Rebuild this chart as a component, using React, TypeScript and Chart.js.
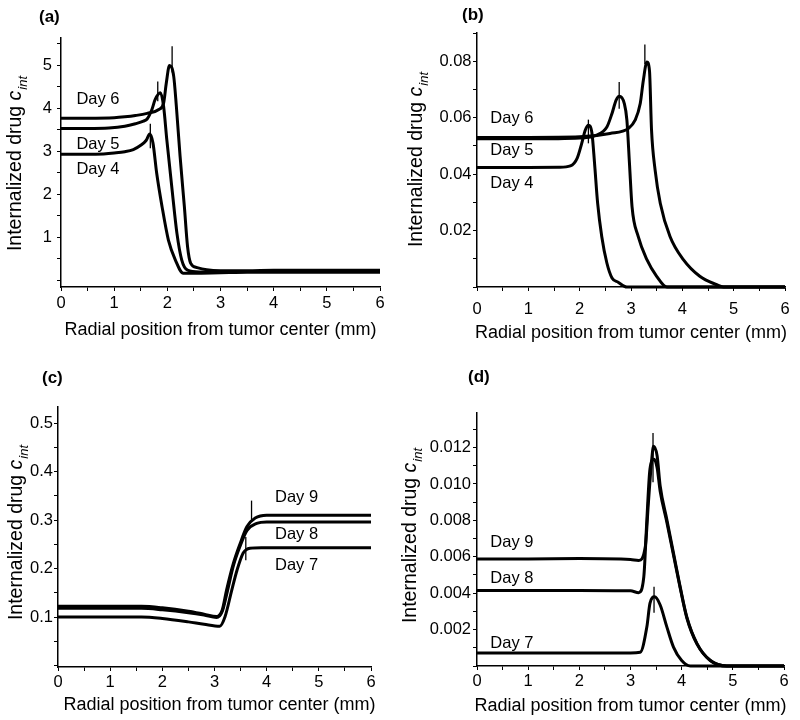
import React, { useEffect, useRef } from "react";
import { Chart, registerables } from "chart.js";

Chart.register(...registerables);

const FONT = "'Liberation Sans', Arial, Helvetica, sans-serif";

// ---------------- Panel (a) data: Days 4-6 ----------------
const A_D4_X = [0, 0.5, 0.8, 1.0, 1.2, 1.36, 1.5, 1.6, 1.67, 1.73, 1.8, 1.9, 2.02, 2.15, 2.3, 2.5, 3.0, 3.5, 4, 5, 6];
const A_D4_Y = [2.93, 2.93, 2.94, 2.96, 2.99, 3.04, 3.14, 3.25, 3.4, 3.19, 2.49, 1.72, 0.94, 0.48, 0.17, 0.17, 0.18, 0.19, 0.19, 0.19, 0.19];
const A_D5_X = [0, 0.5, 0.9, 1.2, 1.4, 1.55, 1.62, 1.71, 1.77, 1.87, 1.93, 1.99, 2.09, 2.18, 2.27, 2.38, 2.6, 3.0, 3.5, 4, 5, 6];
const A_D5_Y = [3.53, 3.53, 3.54, 3.58, 3.64, 3.7, 3.75, 3.97, 4.2, 4.36, 4.04, 3.27, 2.1, 1.1, 0.48, 0.24, 0.2, 0.2, 0.21, 0.21, 0.21, 0.21];
const A_D6_X = [0, 0.5, 1.0, 1.2, 1.4, 1.62, 1.84, 1.93, 1.98, 2.04, 2.12, 2.17, 2.24, 2.32, 2.38, 2.44, 2.56, 2.74, 3.0, 3.5, 4, 5, 6];
const A_D6_Y = [3.77, 3.77, 3.78, 3.8, 3.83, 3.88, 3.97, 4.12, 4.58, 4.99, 4.74, 4.04, 2.88, 1.72, 0.79, 0.4, 0.3, 0.25, 0.23, 0.23, 0.24, 0.24, 0.24];
const A_MARK_X = [1.68, 1.82, 2.09];
const A_MARK_LO = [3.07, 4.16, 4.83];
const A_MARK_HI = [3.64, 4.62, 5.44];
const A_LABELS = ["Day 6", "Day 5", "Day 4"];
const A_LABEL_X = [0.29, 0.29, 0.29];
const A_LABEL_Y = [4.21, 3.17, 2.57];

// ---------------- Panel (b) data: Days 4-6 ----------------
const B_D4_X = [0, 1.0, 1.6, 1.82, 1.95, 2.04, 2.11, 2.17, 2.24, 2.29, 2.35, 2.43, 2.53, 2.63, 2.75, 2.92, 3.5, 4.5, 6];
const B_D4_Y = [0.0423, 0.0423, 0.0424, 0.0429, 0.0456, 0.0509, 0.0556, 0.0573, 0.0544, 0.0438, 0.0297, 0.0179, 0.0085, 0.0032, 0.0017, 0, 0, 0, 0];
const B_D5_X = [0, 1.0, 2.0, 2.33, 2.53, 2.63, 2.71, 2.77, 2.87, 2.92, 2.97, 3.02, 3.14, 3.31, 3.5, 3.7, 4.5, 6];
const B_D5_Y = [0.0525, 0.0525, 0.0528, 0.0538, 0.0567, 0.0615, 0.0662, 0.0676, 0.065, 0.0591, 0.0438, 0.0285, 0.0179, 0.0097, 0.0038, 0, 0, 0];
const B_D6_X = [0, 1.0, 2.0, 2.59, 2.95, 3.08, 3.18, 3.24, 3.31, 3.36, 3.4, 3.47, 3.57, 3.76, 4.02, 4.34, 4.67, 4.8, 6];
const B_D6_Y = [0.053, 0.053, 0.0532, 0.0544, 0.0562, 0.0591, 0.065, 0.0732, 0.0797, 0.0767, 0.0556, 0.0414, 0.0297, 0.0179, 0.0097, 0.0038, 0.0008, 0, 0];
const B_MARK_X = [2.17, 2.77, 3.27];
const B_MARK_LO = [0.0509, 0.0632, 0.079];
const B_MARK_HI = [0.0593, 0.0726, 0.0859];
const B_LABELS = ["Day 6", "Day 5", "Day 4"];
const B_LABEL_X = [0.26, 0.26, 0.26];
const B_LABEL_Y = [0.0597, 0.0485, 0.0367];

// ---------------- Panel (c) data: Days 7-9 ----------------
const C_D9_X = [0, 1.0, 1.6, 2.0, 2.5, 2.8, 3.04, 3.15, 3.23, 3.36, 3.49, 3.62, 3.78, 4.0, 4.5, 5, 6];
const C_D9_Y = [0.122, 0.122, 0.122, 0.119, 0.112, 0.106, 0.101, 0.115, 0.155, 0.21, 0.251, 0.286, 0.304, 0.31, 0.31, 0.31, 0.31];
const C_D8_X = [0, 1.0, 1.6, 2.0, 2.5, 2.8, 3.04, 3.15, 3.24, 3.36, 3.49, 3.62, 3.81, 4.0, 4.5, 5, 6];
const C_D8_Y = [0.118, 0.118, 0.118, 0.115, 0.109, 0.104, 0.099, 0.112, 0.15, 0.205, 0.246, 0.278, 0.293, 0.296, 0.296, 0.296, 0.296];
const C_D7_X = [0, 1.0, 1.6, 2.0, 2.5, 2.8, 3.1, 3.2, 3.33, 3.43, 3.55, 3.68, 3.9, 4.5, 6];
const C_D7_Y = [0.1, 0.1, 0.1, 0.097, 0.09, 0.085, 0.081, 0.1, 0.155, 0.196, 0.232, 0.242, 0.243, 0.243, 0.243];
const C_MARK_X = [3.71, 3.6];
const C_MARK_LO = [0.3, 0.217];
const C_MARK_HI = [0.34, 0.265];
const C_LABELS = ["Day 9", "Day 8", "Day 7"];
const C_LABEL_X = [4.16, 4.16, 4.16];
const C_LABEL_Y = [0.347, 0.27, 0.2065];

// ---------------- Panel (d) data: Days 7-9 ----------------
const D_D9_X = [0, 1, 2, 3.0, 3.16, 3.29, 3.35, 3.41, 3.45, 3.52, 3.58, 3.71, 3.84, 3.97, 4.1, 4.3, 4.56, 4.88, 5.2, 6];
const D_D9_Y = [0.00588, 0.00588, 0.0059, 0.00585, 0.0058, 0.00657, 0.00897, 0.01118, 0.01207, 0.01155, 0.00989, 0.00805, 0.0062, 0.00436, 0.0027, 0.00123, 0.0003, 0, 0, 0];
const D_D8_X = [0, 1, 2, 3.0, 3.16, 3.26, 3.32, 3.38, 3.46, 3.52, 3.58, 3.71, 3.84, 3.97, 4.1, 4.3, 4.56, 4.88, 5.2, 6];
const D_D8_Y = [0.00415, 0.00415, 0.00415, 0.00413, 0.00403, 0.0049, 0.00805, 0.01081, 0.01136, 0.0109, 0.0096, 0.0079, 0.0061, 0.0043, 0.00265, 0.0012, 0.0003, 0, 0, 0];
const D_D7_X = [0, 1, 2, 3.0, 3.19, 3.32, 3.38, 3.47, 3.58, 3.71, 3.84, 4.0, 4.17, 6];
const D_D7_Y = [0.00072, 0.00072, 0.00072, 0.00072, 0.00075, 0.00215, 0.00344, 0.0038, 0.00335, 0.00215, 0.00104, 0.0003, 0, 0];
const D_MARK_X = [3.44, 3.46];
const D_MARK_LO = [0.0101, 0.00292];
const D_MARK_HI = [0.0128, 0.00436];
const D_LABELS = ["Day 9", "Day 8", "Day 7"];
const D_LABEL_X = [0.26, 0.26, 0.26];
const D_LABEL_Y = [0.00679, 0.00482, 0.00123];

// ---------------- shared axis text ----------------
const X_TITLE = "Radial position from tumor center (mm)";
const Y_TITLE_MAIN = "Internalized drug ";
const Y_TITLE_VAR = "c";
const Y_TITLE_SUB = "int";
const X_TICK_STEP = 0.5;

type Series = { x: number[]; y: number[] };
type Panel = {
  letter: string;
  pos: [number, number];
  area: { l: number; r: number; t: number; b: number };
  yMin: number;
  yMax: number;
  yStep: number;
  yLabel: (v: number) => string;
  series: Series[];
  markX: number[];
  markLo: number[];
  markHi: number[];
  labels: string[];
  labelX: number[];
  labelY: number[];
  letterXY: [number, number];
  yTitleXY: [number, number];
  xTitleDY: number;
  xTitleDX: number;
  xTickPad: number;
  yTickPad: number;
};

const CW = 400;
const CH = 360;
const TICK_FONT = 16.5;

const zip = (xs: number[], ys: number[]) => xs.map((x, i) => ({ x, y: ys[i] }));

const intLabel = (v: number) => {
  const k = Math.round(v * 2);
  return k > 0 && k % 2 === 0 ? String(k / 2) : "";
};

const PANELS: Panel[] = [
  {
    letter: "(a)",
    pos: [0, 0],
    area: { l: 61, r: 380, t: 38, b: 287 },
    yMin: -0.15,
    yMax: 5.63,
    yStep: 0.5,
    yLabel: intLabel,
    series: [
      { x: A_D4_X, y: A_D4_Y },
      { x: A_D5_X, y: A_D5_Y },
      { x: A_D6_X, y: A_D6_Y },
    ],
    markX: A_MARK_X,
    markLo: A_MARK_LO,
    markHi: A_MARK_HI,
    labels: A_LABELS,
    labelX: A_LABEL_X,
    labelY: A_LABEL_Y,
    letterXY: [39, 17],
    yTitleXY: [14, 164],
    xTitleDY: 43,
    xTitleDX: 0,
    xTickPad: 3,
    yTickPad: 5,
  },
  {
    letter: "(b)",
    pos: [400, 0],
    area: { l: 77, r: 385, t: 33, b: 287 },
    yMin: 0,
    yMax: 0.09,
    yStep: 0.01,
    yLabel: (v: number) => {
      const k = Math.round(v * 100);
      return k > 0 && k % 2 === 0 ? v.toFixed(2) : "";
    },
    series: [
      { x: B_D4_X, y: B_D4_Y },
      { x: B_D5_X, y: B_D5_Y },
      { x: B_D6_X, y: B_D6_Y },
    ],
    markX: B_MARK_X,
    markLo: B_MARK_LO,
    markHi: B_MARK_HI,
    labels: B_LABELS,
    labelX: B_LABEL_X,
    labelY: B_LABEL_Y,
    letterXY: [62, 15],
    yTitleXY: [15, 160],
    xTitleDY: 46,
    xTitleDX: 0,
    xTickPad: 9,
    yTickPad: 1.5,
  },
  {
    letter: "(c)",
    pos: [0, 360],
    area: { l: 58, r: 371, t: 47, b: 307 },
    yMin: -0.003,
    yMax: 0.533,
    yStep: 0.05,
    yLabel: (v: number) => {
      const k = Math.round(v * 20);
      return k > 0 && k % 2 === 0 ? v.toFixed(1) : "";
    },
    series: [
      { x: C_D9_X, y: C_D9_Y },
      { x: C_D8_X, y: C_D8_Y },
      { x: C_D7_X, y: C_D7_Y },
    ],
    markX: C_MARK_X,
    markLo: C_MARK_LO,
    markHi: C_MARK_HI,
    labels: C_LABELS,
    labelX: C_LABEL_X,
    labelY: C_LABEL_Y,
    letterXY: [42, 18],
    yTitleXY: [15, 173],
    xTitleDY: 38,
    xTitleDX: 5,
    xTickPad: 1.5,
    yTickPad: 1,
  },
  {
    letter: "(d)",
    pos: [400, 360],
    area: { l: 77, r: 384, t: 53, b: 306 },
    yMin: 0,
    yMax: 0.0139,
    yStep: 0.001,
    yLabel: (v: number) => {
      const k = Math.round(v * 1000);
      return k > 0 && k % 2 === 0 && k <= 12 ? v.toFixed(3) : "";
    },
    series: [
      { x: D_D9_X, y: D_D9_Y },
      { x: D_D8_X, y: D_D8_Y },
      { x: D_D7_X, y: D_D7_Y },
    ],
    markX: D_MARK_X,
    markLo: D_MARK_LO,
    markHi: D_MARK_HI,
    labels: D_LABELS,
    labelX: D_LABEL_X,
    labelY: D_LABEL_Y,
    letterXY: [68, 17],
    yTitleXY: [9, 176],
    xTitleDY: 40,
    xTitleDX: 0,
    xTickPad: 2,
    yTickPad: 2,
  },
];

function drawYTitle(ctx: CanvasRenderingContext2D, cx: number, cy: number, size: number) {
  ctx.save();
  ctx.translate(cx, cy);
  ctx.rotate(-Math.PI / 2);
  ctx.fillStyle = "#000";
  ctx.textBaseline = "alphabetic";
  ctx.textAlign = "left";
  const sub = Math.round(size * 0.68);
  ctx.font = `${size}px ${FONT}`;
  const w1 = ctx.measureText(Y_TITLE_MAIN).width;
  ctx.font = `italic ${size}px ${FONT}`;
  const w2 = ctx.measureText(Y_TITLE_VAR).width;
  ctx.font = `italic ${sub}px ${FONT}`;
  const w3 = ctx.measureText(Y_TITLE_SUB).width;
  let x = -(w1 + w2 + w3) / 2;
  const base = size * 0.36;
  ctx.font = `${size}px ${FONT}`;
  ctx.fillText(Y_TITLE_MAIN, x, base);
  x += w1;
  ctx.font = `italic ${size}px ${FONT}`;
  ctx.fillText(Y_TITLE_VAR, x, base);
  x += w2 + 1;
  ctx.font = `italic ${sub}px ${FONT}`;
  ctx.fillText(Y_TITLE_SUB, x, base + size * 0.3);
  ctx.restore();
}

function PanelChart({ p }: { p: Panel }) {
  const ref = useRef<HTMLCanvasElement | null>(null);
  useEffect(() => {
    if (!ref.current) return;
    const datasets: any[] = [];
    p.series.forEach((s) => {
      datasets.push({
        data: zip(s.x, s.y),
        borderColor: "#000",
        borderWidth: 3,
        pointRadius: 0,
        cubicInterpolationMode: "monotone",
        fill: false,
        clip: false,
      });
    });
    p.markX.forEach((mx, i) => {
      datasets.push({
        data: [
          { x: mx, y: p.markLo[i] },
          { x: mx, y: p.markHi[i] },
        ],
        borderColor: "#000",
        borderWidth: 1.3,
        pointRadius: 0,
        fill: false,
        clip: false,
      });
    });

    const textPlugin = {
      id: "panelText",
      afterDraw(chart: any) {
        const ctx: CanvasRenderingContext2D = chart.ctx;
        const xs = chart.scales.x;
        const ys = chart.scales.y;
        const ca = chart.chartArea;
        ctx.save();
        ctx.fillStyle = "#000";
        ctx.font = `bold 17px ${FONT}`;
        ctx.textAlign = "left";
        ctx.textBaseline = "middle";
        ctx.fillText(p.letter, p.letterXY[0], p.letterXY[1]);
        ctx.font = `16.5px ${FONT}`;
        p.labels.forEach((t, i) => {
          ctx.fillText(t, xs.getPixelForValue(p.labelX[i]), ys.getPixelForValue(p.labelY[i]));
        });
        ctx.font = `18px ${FONT}`;
        ctx.textAlign = "center";
        ctx.fillText(X_TITLE, (ca.left + ca.right) / 2 + p.xTitleDX, ca.bottom + p.xTitleDY);
        ctx.restore();
        drawYTitle(ctx, p.yTitleXY[0], p.yTitleXY[1], 19.5);
      },
    };

    const chart = new Chart(ref.current, {
      type: "line",
      data: { datasets },
      options: {
        animation: false,
        responsive: false,
        events: [],
        layout: {
          padding: {
            left: 0,
            top: p.area.t,
            right: CW - p.area.r,
            bottom: CH - p.area.b - 40,
          },
        },
        plugins: {
          legend: { display: false },
          tooltip: { enabled: false },
          title: { display: false },
        },
        scales: {
          x: {
            type: "linear",
            min: 0,
            max: 6,
            afterFit: (s: any) => {
              s.height = 40;
            },
            border: { display: true, color: "#000", width: 1.5 },
            grid: { display: true, drawOnChartArea: false, drawTicks: true, tickLength: 4, color: "#000", lineWidth: 1 },
            ticks: {
              stepSize: X_TICK_STEP,
              autoSkip: false,
              maxRotation: 0,
              includeBounds: false,
              padding: p.xTickPad,
              color: "#000",
              font: { family: FONT, size: TICK_FONT },
              callback: (v: any) => {
                const k = Math.round(Number(v) * 2);
                return k % 2 === 0 ? String(k / 2) : "";
              },
            },
          },
          y: {
            type: "linear",
            min: p.yMin,
            max: p.yMax,
            afterFit: (s: any) => {
              s.width = p.area.l;
            },
            border: { display: true, color: "#000", width: 1.5 },
            grid: { display: true, drawOnChartArea: false, drawTicks: true, tickLength: 4, color: "#000", lineWidth: 1 },
            ticks: {
              stepSize: p.yStep,
              autoSkip: false,
              includeBounds: false,
              padding: p.yTickPad,
              color: "#000",
              font: { family: FONT, size: TICK_FONT },
              callback: (v: any) => p.yLabel(Number(v)),
            },
          },
        },
      },
      plugins: [textPlugin],
    });
    return () => chart.destroy();
  }, [p]);

  return (
    <canvas
      ref={ref}
      width={CW}
      height={CH}
      style={{ position: "absolute", left: p.pos[0], top: p.pos[1], width: CW, height: CH }}
    />
  );
}

export default function App() {
  useEffect(() => {
    document.body.style.margin = "0";
    document.body.style.background = "#fff";
  }, []);
  return (
    <div style={{ position: "relative", width: 800, height: 720, background: "#fff", overflow: "hidden" }}>
      {PANELS.map((p) => (
        <PanelChart key={p.letter} p={p} />
      ))}
    </div>
  );
}
